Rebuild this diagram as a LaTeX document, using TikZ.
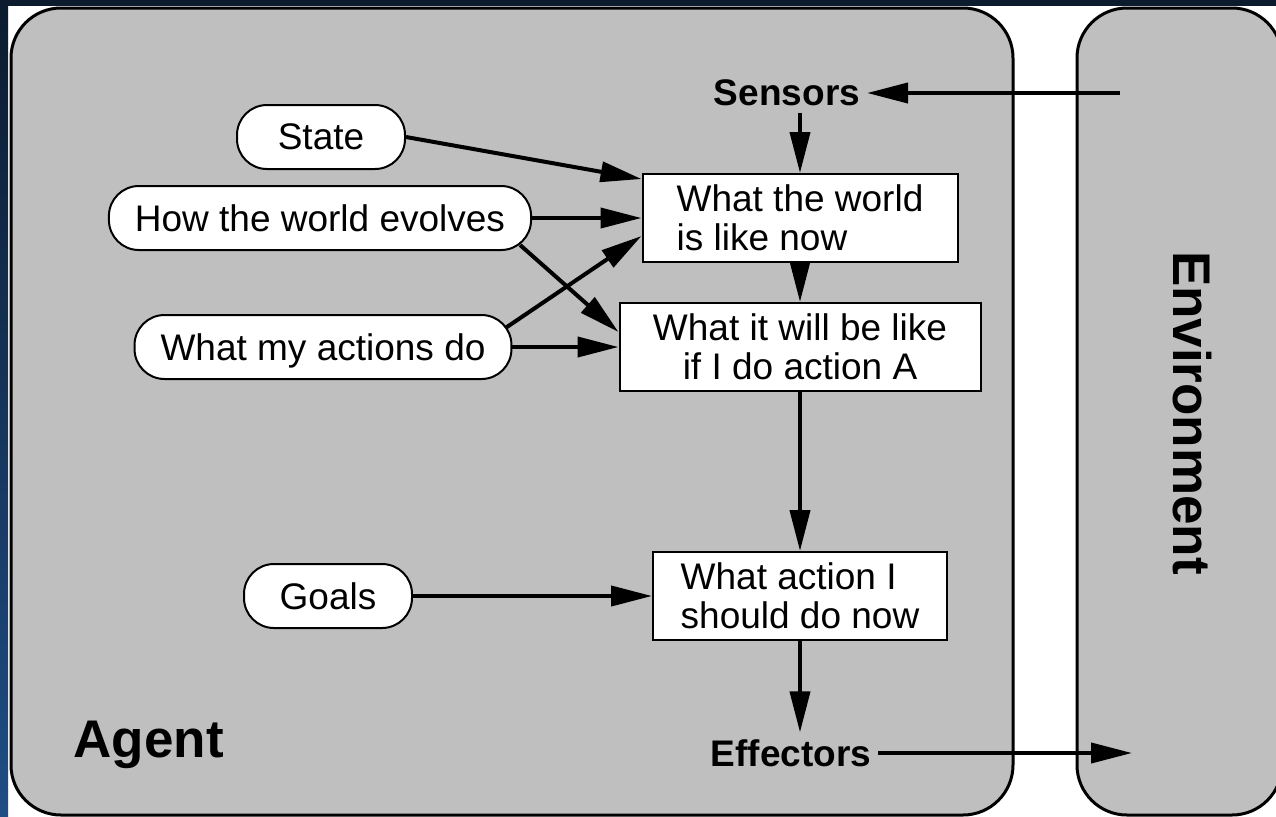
\documentclass[tikz,border=0pt]{standalone}
\usepackage{fontspec}
\setmainfont{Liberation Sans}
\usetikzlibrary{shapes.geometric, arrows.meta, positioning}
\definecolor{navytop}{RGB}{12,27,46}
\definecolor{navybottom}{RGB}{31,78,133}
\newcommand{\plainsize}{\fontsize{18.5pt}{19.5pt}\selectfont}
\newcommand{\bigsize}{\fontsize{26.5pt}{28pt}\selectfont}
\tikzstyle{container} = [rectangle, rounded corners=25pt, draw=black, line width=1.5pt, fill=black!25]
\tikzstyle{box} = [rectangle, draw=black, line width=1pt, fill=white, minimum height=44pt, align=left, font=\plainsize]
\tikzstyle{oval} = [rectangle, rounded corners=15pt, draw=black, line width=1pt, fill=white, minimum height=32pt, minimum width=84pt, inner xsep=13pt, text depth=0pt, font=\plainsize]
\tikzstyle{tag} = [font=\plainsize\bfseries]
\tikzstyle{bigtag} = [font=\bigsize\bfseries]
\tikzstyle{arrow} = [line width=2pt, -{Triangle[length=20.5pt,width=10pt]}]

\begin{document}
\begin{tikzpicture}[node distance=64.5pt]

	% page and frame
	\useasboundingbox (0,0) rectangle (638pt,-408pt);
	\clip (0,0) rectangle (638pt,-408pt);
	\fill[white] (0,0) rectangle (638pt,-408pt);
	\fill[navytop] (0,0) rectangle (638pt,-3pt);
	\shade[top color=navytop, bottom color=navybottom] (0,0) rectangle (4pt,-408pt);

	\node (agent) [container, minimum width=501pt, minimum height=403.5pt] at (256pt,-205.75pt) {};
	\node (env) [container, minimum width=102.5pt, minimum height=403.5pt] at (589.75pt,-205.75pt) {};
	\node (agentname) [bigtag, anchor=base west] at ([xshift=28.5pt,yshift=29.5pt]agent.south west) {Agent};
	\node (envname) [bigtag, rotate=-90] at ([xshift=6.25pt,yshift=-0.75pt]env.center) {Environment};

	\node (now) [box, minimum width=157.5pt] at (400pt,-109pt) {What the world\\is like now};
	\node (future) [box, below of=now, minimum width=180.5pt, align=center] {What it will be like\\if I do action A};
	\node (decide) [box, below of=future, yshift=-60pt, minimum width=147pt] {What action I\\should do now};
	\node (sensors) [tag, above of=now, xshift=-6.5pt, yshift=-2pt] {Sensors};
	\node (effectors) [tag, below of=decide, yshift=-14pt, xshift=-4.5pt] {Effectors};

	\node (evolve) [oval, left of=now, xshift=-175.5pt] {How the world evolves};
	\node (state) [oval, above of=evolve, yshift=-24pt, xshift=0.5pt] {State};
	\node (actions) [oval, left of=future, xshift=-174pt] {What my actions do};
	\node (goals) [oval, left of=decide, xshift=-171.5pt] {Goals};

	\coordinate [right of=sensors, xshift=102pt] (envin);
	\coordinate [right of=effectors, xshift=106pt] (envout);

	\draw [arrow] (envin) -- (sensors);
	\draw [arrow] (sensors.south -| now.north) -- (now.north);
	\draw [arrow] (now) -- (future);
	\draw [arrow] (future) -- (decide);
	\draw [arrow] (decide.south) -- (decide.south |- effectors.north);
	\draw [arrow] (effectors) -- (envout);
	\draw [arrow] (state.east) -- ([yshift=-3pt]now.north west);
	\draw [arrow] (evolve.east) -- (evolve.east -| now.west);
	\draw [arrow] ([xshift=-6pt,yshift=3pt]evolve.south east) -- ([yshift=-15pt]future.north west);
	\draw [arrow] ([xshift=-3.5pt,yshift=-7pt]actions.north east) -- ([yshift=13.5pt]now.south west);
	\draw [arrow] (actions.east) -- (actions.east -| future.west);
	\draw [arrow] (goals) -- (decide);

\end{tikzpicture}
\end{document}
